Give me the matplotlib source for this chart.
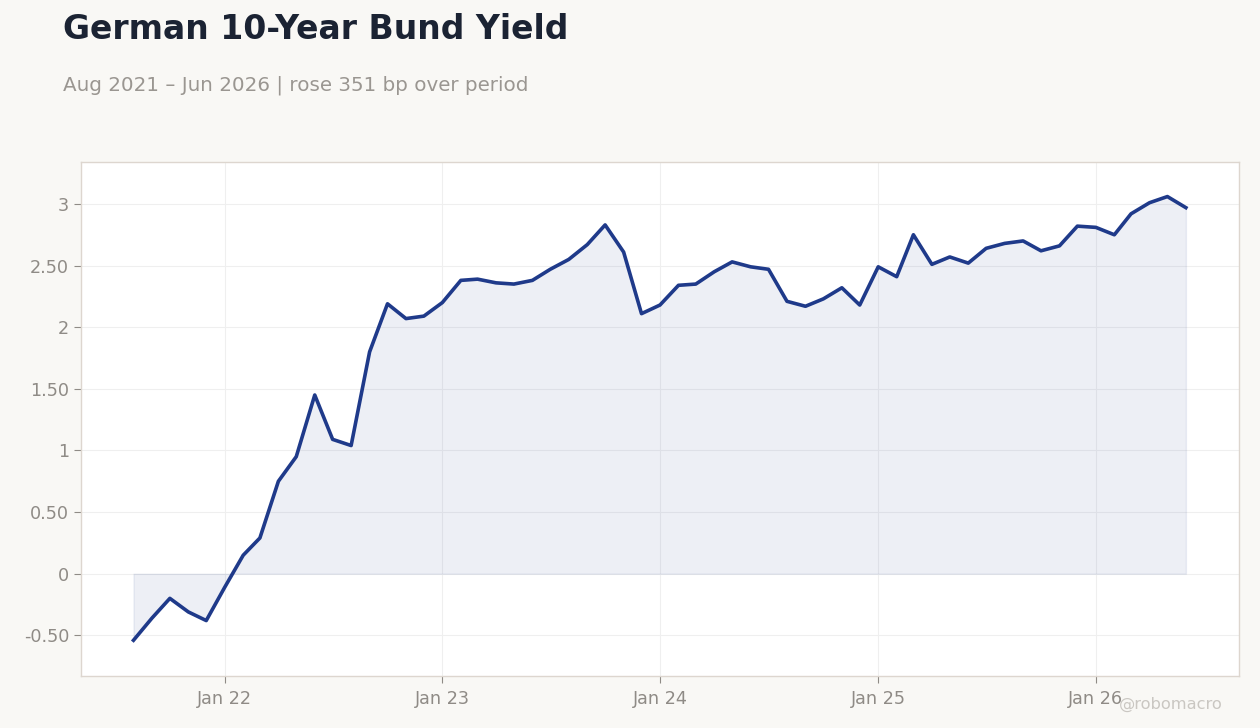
# German 10y Bund yield - monthly, area + line
import numpy as np
import pandas as pd
import matplotlib
matplotlib.use("Agg")
import matplotlib.pyplot as plt
import matplotlib.dates as mdates
from matplotlib.ticker import FuncFormatter, MultipleLocator

# ------------------------------------------------------------
# Data (monthly, Aug 2021 - Jun 2026)
# ------------------------------------------------------------
months = pd.date_range("2021-08-01", "2026-06-01", freq="MS")

yields = [
    -0.54, -0.36, -0.20, -0.31, -0.38,                      # 2021
    -0.11, 0.15, 0.29, 0.75, 0.95, 1.45, 1.09, 1.04,        # 2022
    1.80, 2.19, 2.07, 2.09,
    2.20, 2.38, 2.39, 2.36, 2.35, 2.38, 2.47, 2.55,         # 2023
    2.67, 2.83, 2.61, 2.11,
    2.18, 2.34, 2.35, 2.45, 2.53, 2.49, 2.47, 2.21,         # 2024
    2.17, 2.23, 2.32, 2.18,
    2.49, 2.41, 2.75, 2.51, 2.57, 2.52, 2.64, 2.68,         # 2025
    2.70, 2.62, 2.66, 2.82,
    2.81, 2.75, 2.92, 3.01, 3.06, 2.97,                     # 2026
]

title = "German 10-Year Bund Yield"
change_bp = round((yields[-1] - yields[0]) * 100)
subtitle = f"Aug 2021 \u2013 Jun 2026 | rose {change_bp} bp over period"

# ------------------------------------------------------------
# Style
# ------------------------------------------------------------
bg = "#f9f8f5"
navy = "#1f3a8a"
grey = "#8f8b86"

fig = plt.figure(figsize=(12.6, 7.28), dpi=100, facecolor=bg)
ax = fig.add_axes([0.0643, 0.0714, 0.919, 0.706])
ax.set_facecolor("white")

ax.fill_between(months, yields, 0, color=navy, alpha=0.08, linewidth=1)
ax.plot(months, yields, color=navy, linewidth=2.6)

ax.set_xlim(months[0] - pd.Timedelta(days=88), months[-1] + pd.Timedelta(days=89))
ax.set_ylim(-0.83, 3.34)

ax.xaxis.set_major_locator(mdates.YearLocator(month=1))
ax.xaxis.set_major_formatter(mdates.DateFormatter("Jan %y"))
ax.yaxis.set_major_locator(MultipleLocator(0.5))


def fmt_y(v, pos):
    if abs(v - round(v)) < 1e-9:
        return f"{int(round(v))}"
    return f"{v:.2f}"


ax.yaxis.set_major_formatter(FuncFormatter(fmt_y))

ax.grid(True, color="#efefef", linewidth=0.8)
ax.set_axisbelow(True)
for side in ax.spines.values():
    side.set_color("#ddd6cf")
    side.set_linewidth(1)

ax.tick_params(axis="both", colors=grey, labelsize=12.7, length=5, width=0.8)
ax.tick_params(axis="x", pad=5)

fig.text(0.05, 0.96, title, fontsize=23.8, fontweight="bold", color="#1b2333", va="center")
fig.text(0.05, 0.883, subtitle, fontsize=14.3, color="#9a9691", va="center")
fig.text(0.97, 0.032, "@robomacro", fontsize=11.7, color="#cac7c2", ha="right", va="center")

fig.savefig("out.png", dpi=100, facecolor=bg)
